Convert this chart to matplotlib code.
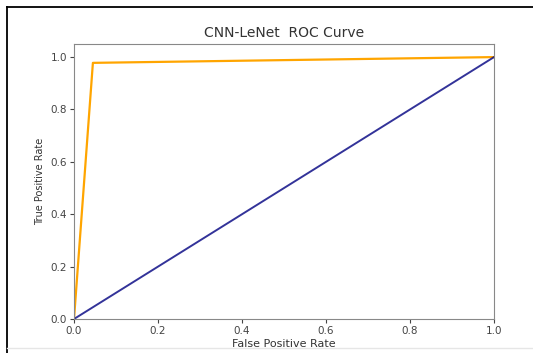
import matplotlib
matplotlib.use('Agg')
import matplotlib.pyplot as plt
from matplotlib.lines import Line2D

# ROC points
fpr = [0.0, 0.045, 1.0]
tpr = [0.0, 0.978, 1.0]
chance = [0.0, 1.0]

W, H = 533, 353
fig = plt.figure(figsize=(W / 100, H / 100), dpi=100)
# frame lines of the screenshot (top and left only, faint bottom)
fig.lines.append(Line2D([7 / W, 1.0], [1 - 7 / H, 1 - 7 / H], transform=fig.transFigure,
                        color='black', lw=1.3))
fig.lines.append(Line2D([7 / W, 7 / W], [0.0, 1 - 7 / H], transform=fig.transFigure,
                        color='black', lw=1.3))
fig.lines.append(Line2D([7 / W, 1.0], [1 - 348 / H, 1 - 348 / H], transform=fig.transFigure,
                        color='#e6e6e6', lw=1.0))

ax = fig.add_axes([74 / W, 1 - 319 / H, (494 - 74) / W, (319 - 44) / H])
ax.plot(fpr, tpr, color='orange', lw=1.6)
ax.plot(chance, chance, color='navy', lw=1.4, alpha=0.8)
ax.set_xlim(0.0, 1.0)
ax.set_ylim(0.0, 1.05)
ax.set_xlabel('False Positive Rate', fontsize=8, color='#333333', labelpad=2)
ax.set_ylabel('True Positive Rate', fontsize=7, color='#333333', labelpad=4)
ax.set_title('CNN-LeNet  ROC Curve', fontsize=10, color='#333333', pad=5)
ax.tick_params(labelsize=7.5, colors='#444444', length=3, pad=2)
for s in ax.spines.values():
    s.set_color('#888888')

fig.savefig('out.png', dpi=100)
